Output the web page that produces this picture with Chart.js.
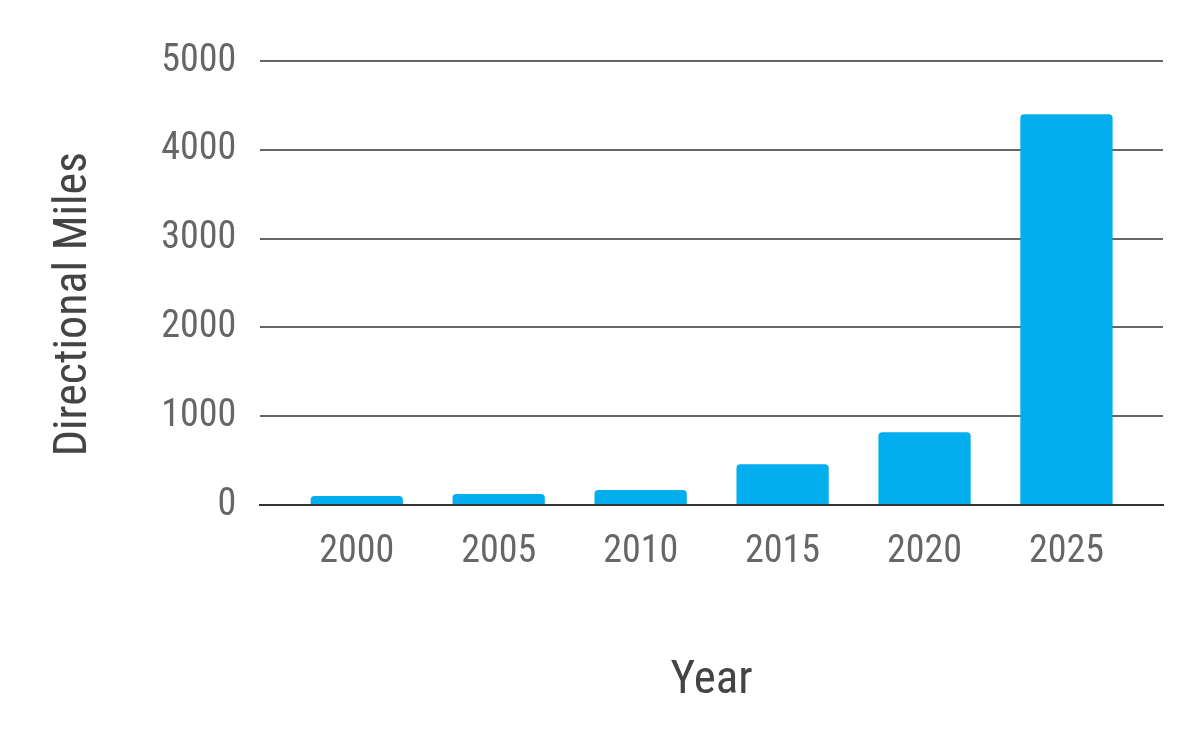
<!DOCTYPE html>
<html>
<head>
<meta charset="utf-8">
<script src="https://cdn.jsdelivr.net/npm/chart.js@4"></script>
<style>
  html, body { margin: 0; padding: 0; background: #fff; }
  #wrap { width: 1200px; height: 742px; }
</style>
</head>
<body>
<div id="wrap"><canvas id="milesChart" width="1200" height="742"></canvas></div>
<script>
// chart data
const years = ['2000', '2005', '2010', '2015', '2020', '2025'];
const directionalMiles = [100, 125, 170, 460, 820, 4400];
const yTicks = [0, 1000, 2000, 3000, 4000, 5000];

const fontFamily = '"Liberation Sans Narrow", "Arial Narrow", "Roboto Condensed", Roboto, sans-serif';

// extra room (in categories) on each side of the first/last bar
const sideGap = 0.18;

const ctx = document.getElementById('milesChart').getContext('2d');
const milesChart = new Chart(ctx, {
    type: 'bar',
    data: {
        labels: years,
        datasets: [{
            label: 'Directional Miles',
            data: directionalMiles,
            backgroundColor: '#03AEEF',
            borderWidth: 0,
            borderRadius: { topLeft: 4, topRight: 4, bottomLeft: 0, bottomRight: 0 },
            borderSkipped: 'bottom',
            categoryPercentage: 1,
            barPercentage: 0.65
        }]
    },
    options: {
        responsive: false,
        animation: false,
        devicePixelRatio: 1,
        layout: {
            padding: { left: 47, right: 37, top: 61, bottom: 33 }
        },
        plugins: {
            legend: { display: false },
            tooltip: { enabled: false }
        },
        scales: {
            x: {
                afterBuildTicks: function(axis) {
                    // widen the category range so gridlines run past the outer bars
                    axis._startValue -= sideGap;
                    axis._valueRange += 2 * sideGap;
                },
                grid: { display: false, drawTicks: false },
                border: { display: true, color: '#333333', width: 2 },
                ticks: {
                    color: '#666666',
                    font: { family: fontFamily, size: 38 },
                    padding: 25
                },
                title: {
                    display: true,
                    text: 'Year',
                    color: '#444444',
                    font: { family: fontFamily, size: 47 },
                    padding: { top: 52, bottom: 0 }
                }
            },
            y: {
                min: 0,
                max: 5000,
                afterBuildTicks: function(axis) {
                    axis.ticks = yTicks.map(v => ({ value: v }));
                },
                grid: { color: '#666666', lineWidth: 2, drawTicks: false },
                border: { display: false },
                ticks: {
                    color: '#666666',
                    font: { family: fontFamily, size: 38 },
                    padding: 24,
                    callback: function(value) { return String(value); }
                },
                title: {
                    display: true,
                    text: 'Directional Miles    ',
                    color: '#444444',
                    font: { family: fontFamily, size: 46 },
                    padding: { top: 0, bottom: 35 }
                }
            }
        }
    }
});
</script>
</body>
</html>
